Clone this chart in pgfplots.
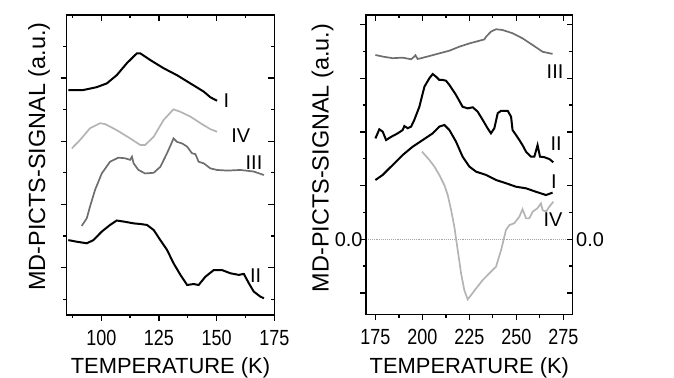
\documentclass[border=0pt]{standalone}
\usepackage{fontspec}
\setmainfont{Liberation Sans}
\newfontfamily\tickfont[FakeStretch=0.82]{Liberation Sans}
\usepackage{pgfplots}
\pgfplotsset{compat=1.18}
\definecolor{cIII}{HTML}{6E6E6E}
\definecolor{cIV}{HTML}{B4B4B4}
\tikzset{lab/.style={font=\fontsize{20}{22}\selectfont, inner sep=0pt}}
\pgfplotsset{
  common/.style={scale only axis, axis line style={line width=1.5bp},
    major tick length=6bp, minor tick length=3.5bp,
    every tick/.style={black, line width=1.3bp},
    ticklabel style={font=\tickfont\fontsize{22}{24}\selectfont},
    yticklabel style={font=\fontsize{20}{22}\selectfont},
    label style={font=\fontsize{22}{24}\selectfont},
    clip=false},
  leftp/.style={width=207.6bp, height=300bp, at={(66.7bp,63bp)}, anchor=south west,
    xmin=85, xmax=175, ymin=0, ymax=9.494,
    xtick={100,125,150,175}, minor xtick={87.5,112.5,137.5,162.5},
    ytick={1.5,3.5,5.5,7.5}, minor ytick={0.5,2.5,4.5,6.5,8.5}},
  rightp/.style={width=206.7bp, height=299.3bp, at={(366bp,63.7bp)}, anchor=south west,
    xmin=170, xmax=280, ymin=-2.795, ymax=8.36,
    xtick={175,200,225,250,275}, minor xtick={187.5,212.5,237.5,262.5},
    ytick={-2,0,2,4,6,8}, minor ytick={-1,1,3,5,7}},
}
\begin{document}
\begin{tikzpicture}
\useasboundingbox (0,0) rectangle (674bp,378bp);
% ---------- left panel ----------
\begin{axis}[common, leftp, tick align=outside, xtick pos=left, ytick pos=left,
  xticklabels={100,125,150,175}, yticklabels={},
  xticklabel style={anchor=base, yshift=-24.5bp},
  xlabel={TEMPERATURE (K)},
  xlabel style={at={(axis description cs:0.5,0)}, anchor=base, yshift=-58bp},
  ylabel={MD-PICTS-SIGNAL (a.u.)},
  ylabel style={at={(axis description cs:-0.1045,0.528)}, anchor=base, font=\fontsize{23.5}{25}\selectfont}]
\addplot[black, line width=2bp] coordinates {
(85.7,7.12)(92.2,7.12)(98.0,7.21)(102.4,7.33)(106.7,7.59)(111.1,7.97)(115.4,8.28)(116.9,8.28)
(121.2,8.07)(127.0,7.81)(132.8,7.59)(138.6,7.33)(144.4,7.07)(147.3,6.89)(150.2,6.78)};
\addplot[cIV, line width=1.7bp] coordinates {
(87.2,5.27)(90.8,5.54)(95.1,5.91)(99.5,6.07)(101.7,6.04)(106.7,5.85)(112.5,5.59)(116.9,5.38)
(119.0,5.38)(122.7,5.64)(127.0,6.17)(131.3,6.51)(134.3,6.43)(138.6,6.28)(143.0,6.07)(147.3,5.88)(150.2,5.80)};
\addplot[cIII, line width=1.7bp] coordinates {
(91.5,2.82)(93.7,3.06)(95.1,3.43)(97.3,3.96)(100.2,4.48)(103.8,4.85)(107.4,4.98)(110.3,4.96)
(112.5,4.91)(113.3,5.01)(114.0,4.80)(116.1,4.59)(119.0,4.48)(122.7,4.50)(125.6,4.69)(128.5,5.12)
(130.7,5.48)(131.3,5.59)(132.8,5.48)(135.0,5.43)(137.2,5.33)(139.3,5.12)(140.8,5.09)(142.2,4.85)
(144.4,4.80)(147.3,4.64)(150.2,4.59)(154.6,4.57)(160.3,4.59)(166.1,4.54)(170.5,4.43)};
\addplot[black, line width=2bp] coordinates {
(85.7,2.37)(89.3,2.32)(93.7,2.27)(96.6,2.37)(100.2,2.64)(103.8,2.85)(106.7,2.99)(110.3,2.95)
(114.0,2.90)(116.9,2.88)(119.8,2.85)(122.7,2.69)(125.6,2.37)(128.5,2.06)(131.3,1.64)(134.3,1.27)
(137.2,0.95)(140.0,0.98)(142.2,0.95)(145.1,1.21)(148.7,1.42)(152.4,1.42)(156.0,1.32)(159.6,1.27)
(161.8,1.30)(164.0,1.00)(166.1,0.74)(169.0,0.58)(170.5,0.53)};
\node[lab] at (axis cs:154.2,6.77) {I};
\node[lab] at (axis cs:160.5,5.68) {IV};
\node[lab] at (axis cs:166.2,4.83) {III};
\node[lab] at (axis cs:166.9,1.25) {II};
\end{axis}
\begin{axis}[common, leftp, tick align=inside, xtick pos=right, ytick pos=right,
  xticklabels={}, yticklabels={}]
\end{axis}
% ---------- right panel ----------
\begin{axis}[common, rightp, tick align=outside, xtick pos=left, ytick pos=left,
  xticklabels={175,200,225,250,275}, yticklabels={{},{0.0},{},{},{},{}},
  xticklabel style={anchor=base, yshift=-24.5bp},
  yticklabel style={xshift=6bp},
  xlabel={TEMPERATURE (K)},
  xlabel style={at={(axis description cs:0.5,0)}, anchor=base, yshift=-58.7bp},
  ylabel={MD-PICTS-SIGNAL (a.u.)},
  ylabel style={at={(axis description cs:-0.181,0.522)}, anchor=base, font=\fontsize{23.5}{25}\selectfont}]
\addplot[gray!70, densely dotted, line width=1.1bp] coordinates {(170,0)(280,0)};
\addplot[cIII, line width=1.7bp] coordinates {
(175.0,6.87)(178.9,6.81)(184.2,6.75)(189.5,6.77)(194.0,6.71)(195.7,6.81)(196.3,6.86)(197.5,6.72)
(199.3,6.75)(203.7,6.83)(209.0,6.93)(214.4,7.03)(219.7,7.18)(225.0,7.30)(230.3,7.40)(233.0,7.45)
(233.9,7.55)(236.5,7.74)(239.2,7.83)(242.7,7.80)(248.0,7.68)(253.3,7.49)(258.7,7.24)(264.0,6.99)(269.3,6.91)};
\addplot[black, line width=2bp] coordinates {
(175.0,3.76)(177.1,4.10)(178.9,4.01)(180.7,3.70)(183.4,3.82)(186.9,3.95)(189.5,4.07)(190.4,4.22)
(192.2,4.14)(194.0,4.20)(195.7,4.45)(198.4,4.94)(201.1,5.69)(203.7,6.00)(205.5,6.16)(207.3,6.06)
(209.0,5.94)(210.8,5.94)(212.6,5.91)(214.4,5.75)(217.9,5.38)(221.4,4.94)(224.1,4.88)(226.8,4.92)
(229.4,4.76)(232.1,4.45)(234.7,4.14)(236.5,3.95)(238.3,4.14)(240.1,4.70)(241.9,4.79)(245.4,4.79)
(247.2,4.57)(248.0,4.07)(249.8,3.89)(251.6,3.70)(253.3,3.51)(255.2,3.26)(257.8,3.08)(259.6,3.08)
(261.3,3.51)(262.6,3.08)(264.9,3.06)(267.6,2.99)(269.7,2.87)};
\addplot[black, line width=2bp] coordinates {
(175.0,2.21)(178.9,2.40)(184.2,2.77)(189.5,3.14)(194.8,3.45)(200.2,3.70)(205.5,3.95)(209.0,4.20)
(211.7,4.26)(214.4,4.07)(217.9,3.64)(221.4,3.08)(225.0,2.71)(228.6,2.52)(233.9,2.40)(239.2,2.21)
(244.5,2.09)(249.8,1.96)(255.2,1.90)(260.5,1.77)(265.8,1.65)(269.3,1.74)};
\addplot[cIV, line width=1.7bp] coordinates {
(199.8,3.27)(203.7,2.96)(206.4,2.71)(209.0,2.40)(211.7,2.02)(213.5,1.65)(215.3,1.09)(217.0,0.47)
(218.8,-0.40)(220.6,-1.27)(222.3,-1.89)(224.1,-2.24)(225.9,-2.08)(228.6,-1.83)(232.1,-1.52)
(235.6,-1.27)(239.2,-1.02)(241.9,-0.40)(244.5,0.35)(246.3,0.53)(248.9,0.60)(251.6,0.84)(253.3,1.12)
(255.2,0.78)(256.9,0.78)(258.7,1.03)(261.3,1.16)(263.1,1.34)(264.0,1.09)(265.8,1.03)(267.6,1.22)(269.7,1.40)};
\node[lab] at (axis cs:270.6,6.25) {III};
\node[lab] at (axis cs:271.2,3.58) {II};
\node[lab] at (axis cs:270.0,2.15) {I};
\node[lab] at (axis cs:269.5,0.72) {IV};
\end{axis}
\begin{axis}[common, rightp, tick align=inside, xtick pos=right, ytick pos=right,
  xticklabels={}, yticklabels={{},{0.0},{},{},{},{}}]
\end{axis}
\end{tikzpicture}
\end{document}
